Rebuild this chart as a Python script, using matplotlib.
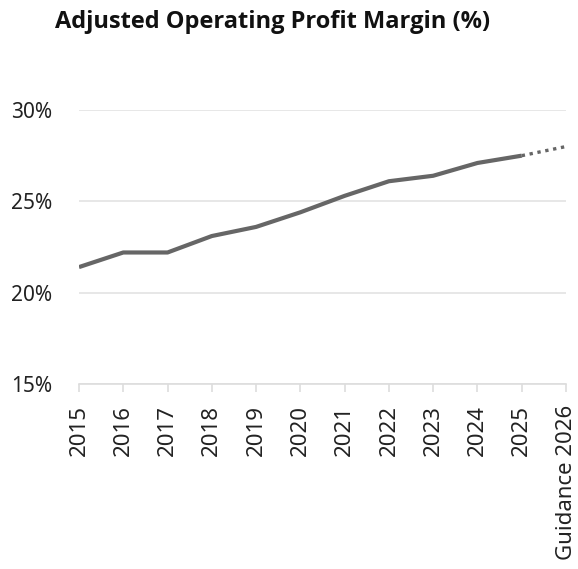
import matplotlib
matplotlib.use("Agg")
import matplotlib.pyplot as plt
from matplotlib.ticker import FuncFormatter

# data
years = ['2015', '2016', '2017', '2018', '2019', '2020', '2021',
         '2022', '2023', '2024', '2025', 'Guidance 2026']
margin = [21.4, 22.2, 22.2, 23.1, 23.6, 24.4, 25.3, 26.1, 26.4, 27.1, 27.5]
guidance = [27.5, 28.0]

plt.rcParams['font.family'] = ['Noto Sans', 'DejaVu Sans']

fig = plt.figure(figsize=(5.78, 5.69), dpi=100)
ax = fig.add_axes([79 / 578, 1 - 384 / 569, (566 - 79) / 578, (384 - 110) / 569])

x = list(range(len(years)))
ax.plot(x[:len(margin)], margin, color='#666666', lw=3, solid_capstyle='butt', zorder=3)
ax.plot(x[len(margin) - 1:], guidance, color='#666666', lw=2.4, ls=(0, (1, 1.4)), zorder=3)

ax.set_xlim(0, len(years) - 1)
ax.set_ylim(15, 30)
ax.set_yticks([15, 20, 25, 30])
ax.yaxis.set_major_formatter(FuncFormatter(lambda v, p: '%d%%' % v))
ax.set_xticks(x)
ax.set_xticklabels(years, rotation=90, va='top', ha='center')

ax.grid(axis='y', color='#e3e3e3', lw=1.2)
ax.set_axisbelow(True)
for s in ['top', 'right', 'left']:
    ax.spines[s].set_visible(False)
ax.spines['bottom'].set_color('#dddddd')
ax.spines['bottom'].set_linewidth(1.2)
ax.tick_params(axis='y', length=0, pad=19, labelsize=15, labelcolor='#222222')
ax.tick_params(axis='x', length=6, width=1.2, color='#dddddd', pad=9,
               labelsize=16, labelcolor='#222222')

fig.text(273 / 578, 1 - 28 / 569, 'Adjusted Operating Profit Margin (%)',
         ha='center', va='baseline', fontsize=17, fontweight='bold',
         family=['Open Sans', 'DejaVu Sans'], color='#111111')

fig.savefig('out.png', dpi=100)
